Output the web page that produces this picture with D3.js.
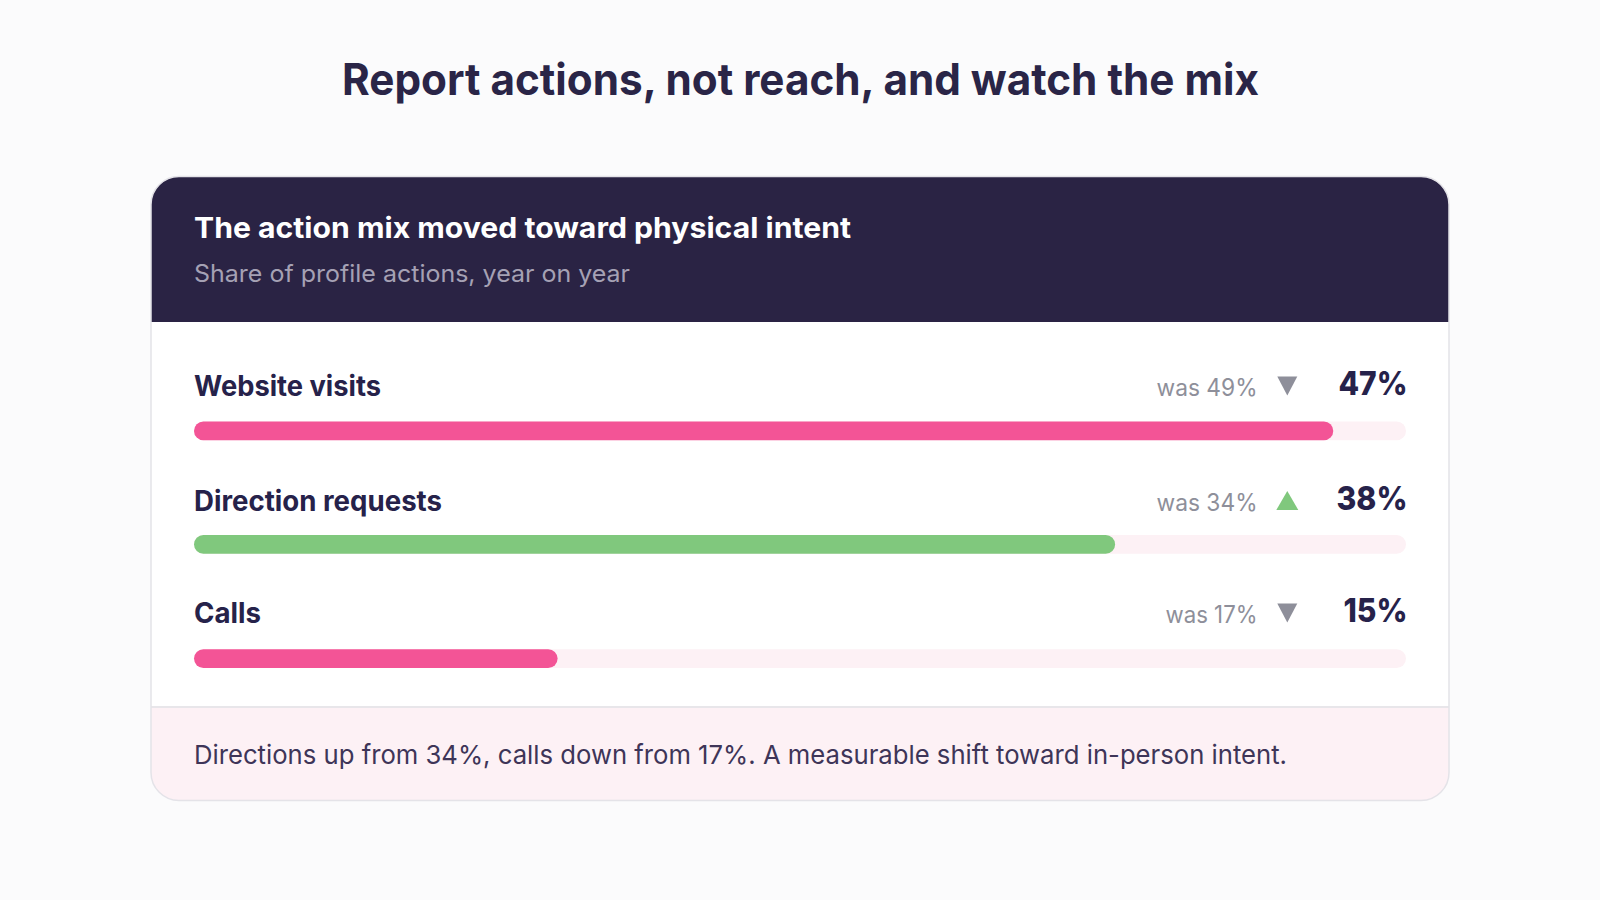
<!DOCTYPE html>
<html><head><meta charset="utf-8">
<script src="https://cdn.jsdelivr.net/npm/d3@7"></script>
<style>html,body{margin:0;background:#fbfbfc}svg{display:block}text{font-family:"Inter","Noto Sans",sans-serif}</style>
</head><body><svg id="c" width="1600" height="900"></svg>
<script>
const title="Report actions, not reach, and watch the mix";
const headerTitle="The action mix moved toward physical intent";
const headerSub="Share of profile actions, year on year";
const categories=["Website visits","Direction requests","Calls"];
const current=[47,38,15];
const previous=[49,34,17];
const footer="Directions up from 34%, calls down from 17%. A measurable shift toward in-person intent.";
const svg=d3.select("#c");
const ink="#26224a",L=151,R=1449,T=176.5,B=800.5,r=28,HB=322,FT=707;
const x=d3.scaleLinear().domain([0,50]).range([194,1406]);
function fit(sel,w){sel.attr("textLength",w).attr("lengthAdjust","spacingAndGlyphs");return sel;}
fit(svg.append("text").attr("x",342).attr("y",95).attr("font-size",44).attr("font-weight",700).attr("fill","#2a2547").text(title),917);
svg.append("defs").append("clipPath").attr("id","card").append("rect").attr("x",L).attr("y",T).attr("width",R-L).attr("height",B-T).attr("rx",r);
const g=svg.append("g").attr("clip-path","url(#card)");
g.append("rect").attr("x",L).attr("y",T).attr("width",R-L).attr("height",B-T).attr("fill","#fff");
g.append("rect").attr("x",L).attr("y",T).attr("width",R-L).attr("height",HB-T).attr("fill","#2a2344");
g.append("rect").attr("x",L).attr("y",FT).attr("width",R-L).attr("height",B-FT).attr("fill","#fdf1f5");
g.append("line").attr("x1",L).attr("x2",R).attr("y1",FT).attr("y2",FT).attr("stroke","#e8e6ea").attr("stroke-width",2);
svg.append("rect").attr("x",L).attr("y",T).attr("width",R-L).attr("height",B-T).attr("rx",r).attr("fill","none").attr("stroke","#e4e3e8").attr("stroke-width",1.5);
fit(svg.append("text").attr("x",194).attr("y",238).attr("font-size",29).attr("font-weight",700).attr("fill","#fff").text(headerTitle),657);
fit(svg.append("text").attr("x",194).attr("y",282).attr("font-size",24).attr("fill","#a5a1b4").text(headerSub),436);
const ys=[421.5,535,649.2],barH=18.8;
const labelY=[396,511,623],triY=[386,500.5,613];
const labelW=[187,248,67],valueW=[69,71,64],wasW=[101,101,92];
categories.forEach((c,i)=>{
  const up=current[i]>previous[i],y0=ys[i];
  svg.append("rect").attr("x",194).attr("y",y0).attr("width",x(50)-194).attr("height",barH).attr("rx",barH/2).attr("fill","#fdf1f5");
  svg.append("rect").attr("x",194).attr("y",y0).attr("width",x(current[i])-194).attr("height",barH).attr("rx",barH/2).attr("fill",up?"#80c87d":"#f35496");
  fit(svg.append("text").attr("x",194).attr("y",labelY[i]).attr("font-size",28).attr("font-weight",700).attr("fill",ink).text(c),labelW[i]);
  fit(svg.append("text").attr("x",1407.5-valueW[i]).attr("y",labelY[i]-1).attr("font-size",33).attr("font-weight",800).attr("fill",ink).text(current[i]+"%"),valueW[i]);
  fit(svg.append("text").attr("x",1257.5-wasW[i]).attr("y",labelY[i]-0.5).attr("font-size",24).attr("fill","#8e8f9a").text("was "+previous[i]+"%"),wasW[i]);
  svg.append("path").attr("transform",`translate(1287.3,${triY[i]})`).attr("d",up?"M0,-9.5L11,9.5L-11,9.5Z":"M-10,-9.5L10,-9.5L0,9.5Z").attr("fill",up?"#80c87d":"#8e8f9a");
});
fit(svg.append("text").attr("x",194).attr("y",764).attr("font-size",26).attr("fill","#3e3558").text(footer),1093);
</script></body></html>
